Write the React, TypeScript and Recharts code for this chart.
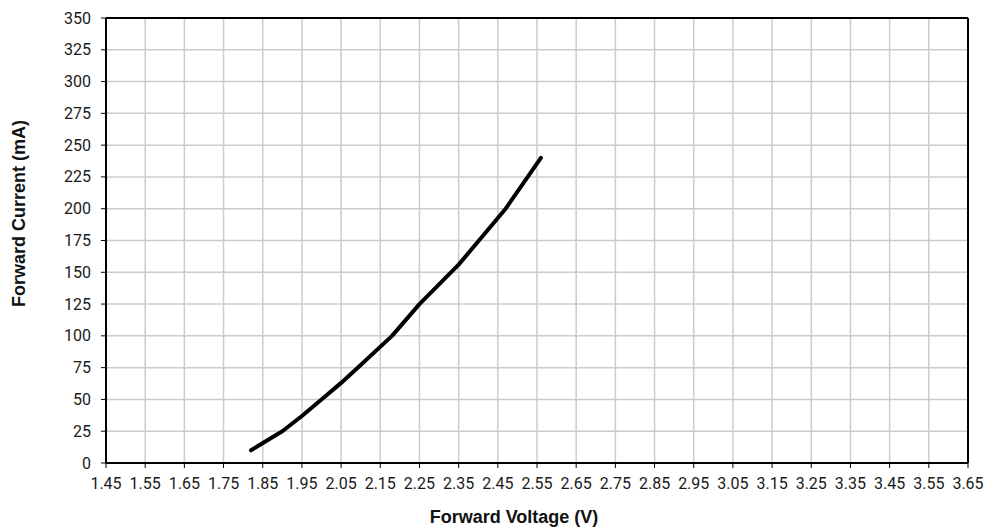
import {
  LineChart,
  Line,
  XAxis,
  YAxis,
  CartesianGrid,
  ReferenceLine,
  Label,
} from 'recharts';

const voltage = [1.82, 1.9, 1.95, 2.0, 2.05, 2.1, 2.18, 2.25, 2.35, 2.47, 2.56];
const current = [10, 25, 37, 50, 63, 77, 100, 125, 156, 200, 240];

const xTicks = [
  1.45, 1.55, 1.65, 1.75, 1.85, 1.95, 2.05, 2.15, 2.25, 2.35, 2.45, 2.55,
  2.65, 2.75, 2.85, 2.95, 3.05, 3.15, 3.25, 3.35, 3.45, 3.55, 3.65,
];
const yTicks = [0, 25, 50, 75, 100, 125, 150, 175, 200, 225, 250, 275, 300, 325, 350];

const data = voltage.map((v, i) => ({ v, i: current[i] }));

const TICK_FONT = 'Roboto, "Noto Sans", sans-serif';
const TITLE_FONT = '"Liberation Sans", Arial, sans-serif';

// plain text ticks so the font size is sure to stick
const XTick = (props: any) => {
  const { x, y, payload } = props;
  return (
    <text x={x} y={y} dy={11.5} textAnchor="middle" fontFamily={TICK_FONT} fontSize={16} fill="#1a1a1a">
      {Number(payload.value).toFixed(2)}
    </text>
  );
};

const YTick = (props: any) => {
  const { x, y, payload } = props;
  return (
    <text x={x} y={y} dy={5.5} textAnchor="end" fontFamily={TICK_FONT} fontSize={16} fill="#1a1a1a">
      {payload.value}
    </text>
  );
};

// titles are a bit off the plot's middle in the original
const XTitle = (props: any) => {
  const vb = props.viewBox || {};
  const cx = vb.x + vb.width / 2 - 23;
  const by = vb.y + vb.height - 6;
  return (
    <text x={cx} y={by} textAnchor="middle" fontFamily={TITLE_FONT} fontWeight={700} fontSize={18} fill="#111">
      Forward Voltage (V)
    </text>
  );
};

const YTitle = (props: any) => {
  const vb = props.viewBox || {};
  const cx = vb.x + 19;
  const cy = vb.y + vb.height / 2 - 27;
  return (
    <text
      x={cx}
      y={cy}
      transform={`rotate(-90, ${cx}, ${cy})`}
      textAnchor="middle"
      dominantBaseline="central"
      fontFamily={TITLE_FONT}
      fontWeight={700}
      fontSize={18}
      fill="#111"
    >
      Forward Current (mA)
    </text>
  );
};

export default function App() {
  return (
    <div style={{ position: 'absolute', left: 0, top: 0, width: 987, height: 529 }}>
      <LineChart
        width={987}
        height={529}
        data={data}
        margin={{ top: 18, right: 19, bottom: 0, left: 0 }}
      >
        <CartesianGrid stroke="#cccccc" strokeWidth={1.5} />
        <XAxis
          type="number"
          dataKey="v"
          domain={[1.45, 3.65]}
          ticks={xTicks}
          interval={0}
          allowDataOverflow
          tick={<XTick />}
          tickSize={5}
          tickMargin={9}
          height={66}
          axisLine={{ stroke: '#000', strokeWidth: 2 }}
          tickLine={{ stroke: '#000' }}
        >
          <Label content={XTitle} />
        </XAxis>
        <YAxis
          type="number"
          dataKey="i"
          domain={[0, 350]}
          ticks={yTicks}
          interval={0}
          tick={<YTick />}
          tickSize={5}
          tickMargin={10}
          width={106}
          axisLine={{ stroke: '#000', strokeWidth: 2 }}
          tickLine={{ stroke: '#000' }}
        >
          <Label content={YTitle} />
        </YAxis>
        <ReferenceLine y={350} stroke="#000" strokeWidth={2} />
        <ReferenceLine x={3.65} stroke="#000" strokeWidth={2} />
        <Line
          type="linear"
          dataKey="i"
          stroke="#000"
          strokeWidth={4}
          strokeLinecap="round"
          strokeLinejoin="round"
          dot={false}
          isAnimationActive={false}
        />
      </LineChart>
    </div>
  );
}
